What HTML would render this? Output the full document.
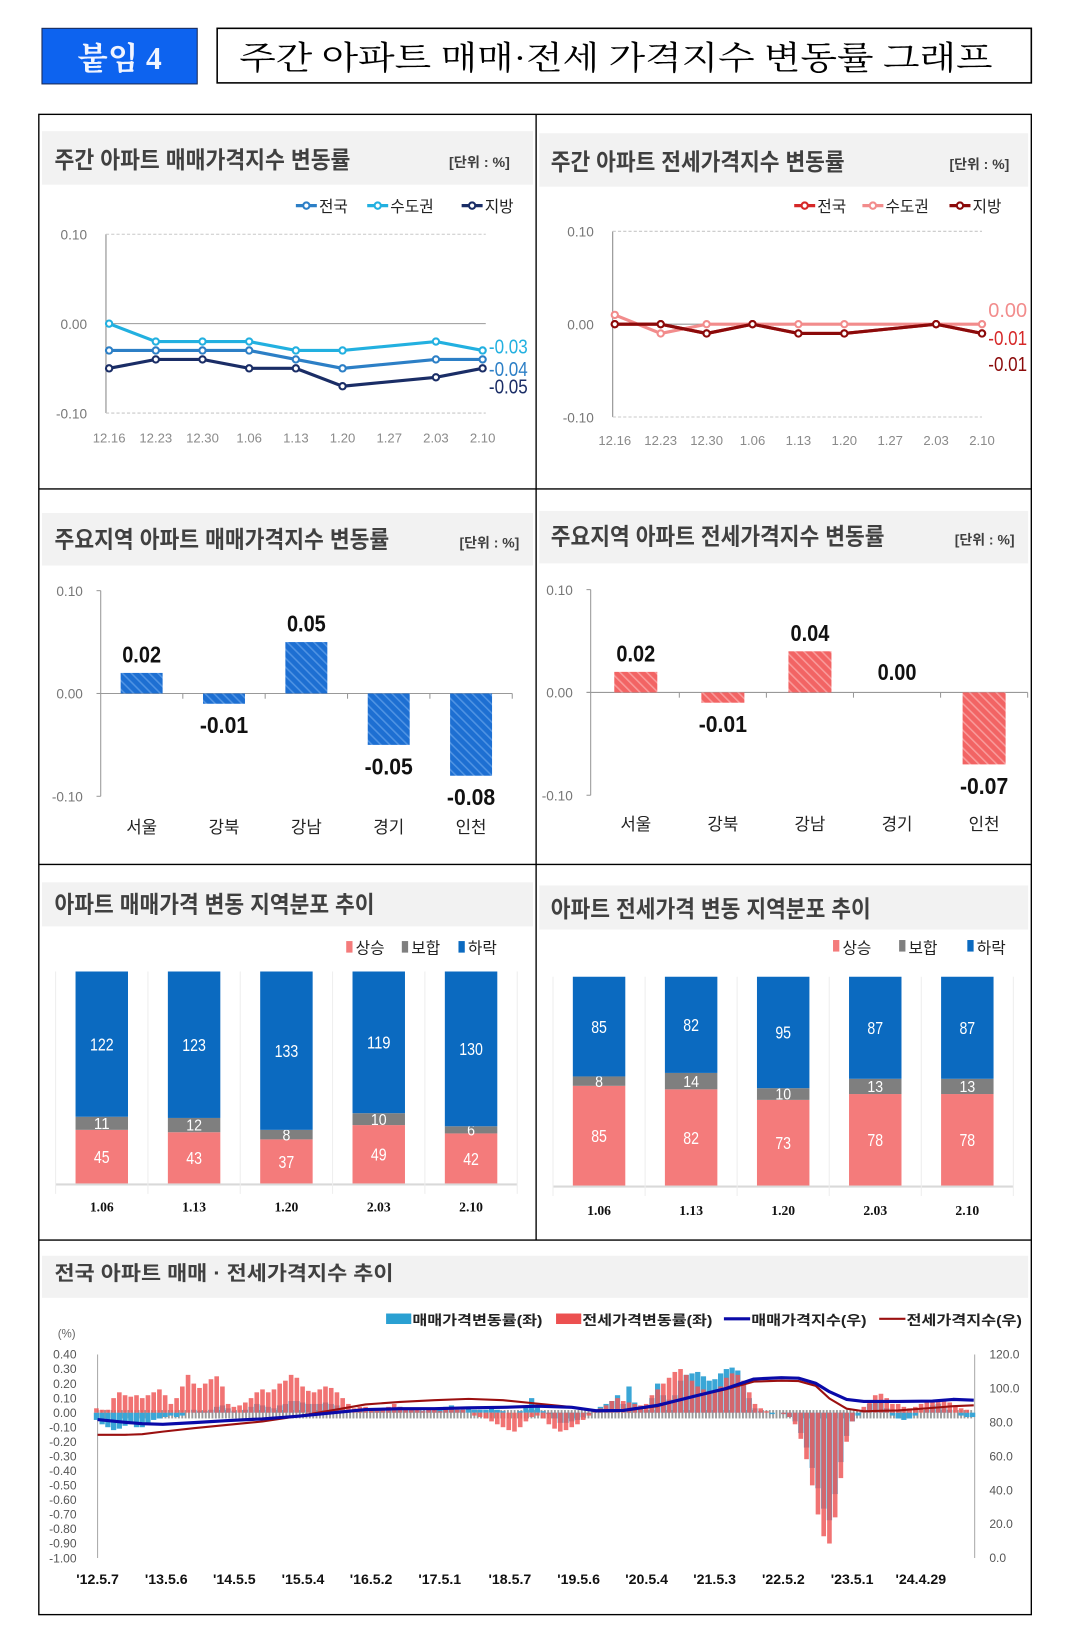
<!DOCTYPE html>
<html><head><meta charset="utf-8">
<style>
html,body{margin:0;padding:0;background:#fff;}
svg{display:block;}
text{font-family:"Liberation Sans","Noto Sans CJK KR",sans-serif;}
.ser{font-family:"Liberation Serif","Noto Serif CJK SC",serif;}
.ttl{font-family:"Liberation Sans","Noto Sans CJK KR",sans-serif;font-weight:bold;fill:#404040;}
</style></head>
<body>
<svg id="page" width="1080" height="1644" viewBox="0 0 1029.4 1567" preserveAspectRatio="none" xmlns="http://www.w3.org/2000/svg">
<defs>
<pattern id="hb" width="6" height="6" patternUnits="userSpaceOnUse" patternTransform="rotate(-45)"><rect width="6" height="6" fill="#1d6fd2"/><rect width="1.5" height="6" fill="#4f93e3"/></pattern>
<pattern id="hr" width="6" height="6" patternUnits="userSpaceOnUse" patternTransform="rotate(-45)"><rect width="6" height="6" fill="#f26464"/><rect width="1.5" height="6" fill="#f99a9a"/></pattern>
<pattern id="gz" width="3.2" height="10" patternUnits="userSpaceOnUse"><rect width="1.8" height="10" fill="#9a9a9a"/></pattern>
</defs>

<!-- header -->
<rect x="40" y="27" width="148" height="53" fill="#0d63ef" stroke="#1a2a55" stroke-width="1"/>
<text x="114" y="66" text-anchor="middle" class="ser" font-size="30" font-weight="bold" fill="#f0f4ff">붙임 4</text>
<rect x="207" y="27" width="776" height="52" fill="#fff" stroke="#000" stroke-width="1.5"/>
<text x="228" y="66" class="ser" font-size="31" fill="#000" textLength="718" lengthAdjust="spacingAndGlyphs">주간 아파트 매매·전세 가격지수 변동률 그래프</text>

<!-- outer grid -->
<g stroke="#000" stroke-width="1.3" fill="none">
<rect x="37" y="109" width="946" height="1430"/>
<line x1="511" y1="109" x2="511" y2="1182"/>
<line x1="37" y1="466" x2="983" y2="466"/>
<line x1="37" y1="824" x2="983" y2="824"/>
<line x1="37" y1="1182" x2="983" y2="1182"/>
</g>

<!-- header bands -->
<g fill="#f2f2f2">
<rect x="40" y="125" width="468" height="51"/>
<rect x="514" y="127" width="466" height="51"/>
<rect x="40" y="489" width="468" height="50"/>
<rect x="514" y="487" width="466" height="50"/>
<rect x="40" y="841" width="468" height="42"/>
<rect x="514" y="844" width="466" height="42"/>
<rect x="40" y="1197" width="940" height="40"/>
</g>
<text x="52" y="160" class="ttl" font-size="22" textLength="282" lengthAdjust="spacingAndGlyphs">주간 아파트 매매가격지수 변동률</text>
<text x="428" y="159" class="ttl" font-size="13" fill="#333" textLength="58" lengthAdjust="spacingAndGlyphs">[단위 : %]</text>
<text x="525" y="162" class="ttl" font-size="22" textLength="280" lengthAdjust="spacingAndGlyphs">주간 아파트 전세가격지수 변동률</text>
<text x="905" y="161" class="ttl" font-size="13" fill="#333" textLength="57" lengthAdjust="spacingAndGlyphs">[단위 : %]</text>
<text x="52" y="522" class="ttl" font-size="22" textLength="319" lengthAdjust="spacingAndGlyphs">주요지역 아파트 매매가격지수 변동률</text>
<text x="438" y="522" class="ttl" font-size="13" fill="#333" textLength="57" lengthAdjust="spacingAndGlyphs">[단위 : %]</text>
<text x="525" y="519" class="ttl" font-size="22" textLength="318" lengthAdjust="spacingAndGlyphs">주요지역 아파트 전세가격지수 변동률</text>
<text x="910" y="519" class="ttl" font-size="13" fill="#333" textLength="57" lengthAdjust="spacingAndGlyphs">[단위 : %]</text>
<text x="52" y="870" class="ttl" font-size="22" textLength="305" lengthAdjust="spacingAndGlyphs">아파트 매매가격 변동 지역분포 추이</text>
<text x="525" y="874" class="ttl" font-size="22" textLength="305" lengthAdjust="spacingAndGlyphs">아파트 전세가격 변동 지역분포 추이</text>
<text x="52" y="1220" class="ttl" font-size="19" textLength="323" lengthAdjust="spacingAndGlyphs">전국 아파트 매매 · 전세가격지수 추이</text>

<!-- legends panel 1/2 -->
<g font-size="15" fill="#222">
<g><line x1="282" y1="196" x2="302" y2="196" stroke="#2c7fc6" stroke-width="3"/><circle cx="292" cy="196" r="3" fill="#fff" stroke="#2c7fc6" stroke-width="2"/><text x="304" y="202">전국</text></g>
<g><line x1="350" y1="196" x2="370" y2="196" stroke="#22b0e0" stroke-width="3"/><circle cx="360" cy="196" r="3" fill="#fff" stroke="#22b0e0" stroke-width="2"/><text x="372" y="202">수도권</text></g>
<g><line x1="440" y1="196" x2="460" y2="196" stroke="#1a2d66" stroke-width="3"/><circle cx="450" cy="196" r="3" fill="#fff" stroke="#1a2d66" stroke-width="2"/><text x="462" y="202">지방</text></g>
<g><line x1="757" y1="196" x2="777" y2="196" stroke="#d62828" stroke-width="3"/><circle cx="767" cy="196" r="3" fill="#fff" stroke="#d62828" stroke-width="2"/><text x="779" y="202">전국</text></g>
<g><line x1="822" y1="196" x2="842" y2="196" stroke="#f28c8c" stroke-width="3"/><circle cx="832" cy="196" r="3" fill="#fff" stroke="#f28c8c" stroke-width="2"/><text x="844" y="202">수도권</text></g>
<g><line x1="905" y1="196" x2="925" y2="196" stroke="#8b0a0a" stroke-width="3"/><circle cx="915" cy="196" r="3" fill="#fff" stroke="#8b0a0a" stroke-width="2"/><text x="927" y="202">지방</text></g>
</g>

<!-- legends panel 5/6 -->
<g font-size="15" fill="#222">
<g><rect x="330" y="897" width="6" height="11" fill="#f47b7b"/><text x="339" y="909">상승</text></g>
<g><rect x="383" y="897" width="6" height="11" fill="#7f7f7f"/><text x="392" y="909">보합</text></g>
<g><rect x="437" y="897" width="6" height="11" fill="#0b6ac0"/><text x="446" y="909">하락</text></g>
<g><rect x="794" y="896" width="6" height="11" fill="#f47b7b"/><text x="803" y="909">상승</text></g>
<g><rect x="857" y="896" width="6" height="11" fill="#7f7f7f"/><text x="866" y="909">보합</text></g>
<g><rect x="922" y="896" width="6" height="11" fill="#0b6ac0"/><text x="931" y="909">하락</text></g>
</g>

<!-- legend panel 7 -->
<g font-size="13" fill="#222" font-weight="bold">
<g><rect x="368" y="1252" width="24" height="10" fill="#2aa0d2"/><text x="393" y="1263" textLength="124" lengthAdjust="spacingAndGlyphs">매매가격변동률(좌)</text></g>
<g><rect x="530" y="1252" width="24" height="10" fill="#ec5050"/><text x="555" y="1263" textLength="124" lengthAdjust="spacingAndGlyphs">전세가격변동률(좌)</text></g>
<g><line x1="690" y1="1257" x2="715" y2="1257" stroke="#0a0aa8" stroke-width="3"/><text x="716" y="1263" textLength="110" lengthAdjust="spacingAndGlyphs">매매가격지수(우)</text></g>
<g><line x1="838" y1="1257" x2="863" y2="1257" stroke="#9b1010" stroke-width="2"/><text x="864" y="1263" textLength="110" lengthAdjust="spacingAndGlyphs">전세가격지수(우)</text></g>
</g>
<text x="55" y="1275" font-size="11" fill="#666">(%)</text>

<g id="charts"></g>
</svg>

<script>
// ---------- data ----------
const weekCats = ['12.16','12.23','12.30','1.06','1.13','1.20','1.27','2.03','2.10'];
const saleNational = [-0.03,-0.03,-0.03,-0.03,-0.04,-0.05,null,-0.04,-0.04];
const saleCapital = [0.00,-0.02,-0.02,-0.02,-0.03,-0.03,null,-0.02,-0.03];
const saleLocal = [-0.05,-0.04,-0.04,-0.05,-0.05,-0.07,null,-0.06,-0.05];
const jeonseNational = [0.00,0.00,-0.01,0.00,-0.01,-0.01,null,0.00,-0.01];
const jeonseCapital = [0.01,-0.01,0.00,0.00,0.00,0.00,null,0.00,0.00];
const jeonseLocal = [0.00,0.00,-0.01,0.00,-0.01,-0.01,null,0.00,-0.01];
const lineTicks = ['0.10','0.00','-0.10'];

const regions = ['서울','강북','강남','경기','인천'];
const regionSale = [0.02,-0.01,0.05,-0.05,-0.08];
const regionJeonse = [0.02,-0.01,0.04,0.00,-0.07];

const distCats = ['1.06','1.13','1.20','2.03','2.10'];
const saleRise = [45,43,37,49,42];
const saleFlat = [11,12,8,10,6];
const saleFall = [122,123,133,119,130];
const jeonseRise = [85,82,73,78,78];
const jeonseFlat = [8,14,10,13,13];
const jeonseFall = [85,82,95,87,87];

// monthly from 2012-05
const monthlySale = [
-0.05,-0.08,-0.10,-0.12,-0.11,-0.09,-0.08,-0.10,
-0.10,-0.08,-0.05,-0.04,-0.03,-0.02,-0.03,-0.02,0.00,0.02,0.01,0.01,
0.02,0.04,0.05,0.03,0.01,0.00,0.02,0.04,0.06,0.05,0.04,0.03,
0.05,0.06,0.08,0.08,0.07,0.06,0.06,0.06,0.07,0.06,0.05,0.03,
0.01,0.00,0.01,0.01,0.02,0.02,0.02,0.03,0.03,0.04,0.03,0.02,
0.01,0.01,0.01,0.01,0.02,0.04,0.05,0.02,0.02,0.03,0.02,0.02,
0.02,0.03,0.02,0.01,0.00,0.00,0.01,0.04,0.10,0.05,0.01,-0.01,
-0.04,-0.07,-0.07,-0.06,-0.05,-0.03,-0.01,0.01,0.04,0.06,0.08,0.12,
0.06,0.18,0.07,0.04,0.02,0.10,0.20,0.12,0.09,0.12,0.22,0.26,
0.27,0.28,0.25,0.22,0.23,0.27,0.30,0.31,0.29,0.20,0.10,0.03,
0.01,0.00,-0.01,0.00,-0.01,-0.03,-0.06,-0.14,-0.24,-0.38,-0.52,-0.66,
-0.74,-0.56,-0.34,-0.16,-0.06,-0.02,0.02,0.06,0.08,0.07,0.03,-0.02,
-0.04,-0.05,-0.04,-0.02,0.00,0.02,0.05,0.06,0.04,0.02,0.00,-0.02,
-0.03,-0.03];
const monthlyJeonse = [
0.03,0.02,0.02,0.10,0.14,0.12,0.11,0.12,
0.10,0.12,0.14,0.16,0.12,0.06,0.10,0.18,0.26,0.20,0.17,0.20,
0.23,0.25,0.18,0.06,0.04,0.05,0.07,0.10,0.14,0.16,0.14,0.16,
0.20,0.22,0.26,0.24,0.18,0.15,0.14,0.16,0.18,0.17,0.14,0.10,
0.06,0.03,0.04,0.04,0.03,0.02,0.03,0.04,0.06,0.04,0.03,0.02,
0.02,0.01,0.02,0.02,0.01,0.02,0.03,0.02,0.02,0.00,-0.02,-0.03,
-0.04,-0.06,-0.08,-0.10,-0.12,-0.13,-0.10,-0.06,-0.03,-0.02,-0.04,-0.08,
-0.11,-0.13,-0.12,-0.10,-0.08,-0.05,-0.02,0.01,0.03,0.05,0.08,0.10,
0.08,0.07,0.06,0.05,0.06,0.12,0.16,0.20,0.24,0.28,0.30,0.26,
0.22,0.18,0.16,0.14,0.15,0.18,0.24,0.27,0.26,0.22,0.14,0.06,
0.03,0.01,0.00,0.00,-0.01,-0.03,-0.08,-0.18,-0.32,-0.50,-0.70,-0.85,
-0.90,-0.72,-0.45,-0.20,-0.06,0.00,0.04,0.08,0.12,0.13,0.10,0.06,
0.06,0.04,0.03,0.04,0.06,0.07,0.08,0.08,0.09,0.07,0.05,0.03,
0.02,0.00];
const idxYears = [2012.35,2012.75,2013.0,2013.3,2013.75,2014.25,2014.75,2015.25,2015.75,2016.25,2016.75,2017.25,2017.75,2018.25,2018.75,2019.25,2019.6,2020.0,2020.5,2021.0,2021.5,2021.9,2022.3,2022.55,2022.8,2023.0,2023.25,2023.5,2024.0,2024.5,2024.8,2025.1];
const saleIndex = [81.6,80.0,79.2,78.8,79.8,81.0,82.0,83.5,85.5,87.5,88.0,88.0,88.5,88.8,89.5,88.8,86.8,87.0,90.0,95.0,100.0,105.5,106.3,106.0,103.0,98.0,93.5,92.3,92.3,92.5,93.5,93.0];
const jeonseIndex = [72.6,72.6,73.0,74.5,76.5,78.5,80.5,83.5,87.0,90.5,92.0,93.0,93.8,93.0,91.0,89.0,86.5,86.8,89.5,95.0,99.5,104.0,104.5,104.3,101.5,94.0,88.0,86.5,87.0,88.5,89.5,90.0];
const leftTicks = ['0.40','0.30','0.20','0.10','0.00','-0.10','-0.20','-0.30','-0.40','-0.50','-0.60','-0.70','-0.80','-0.90','-1.00'];
const rightTicks = ['120.0','100.0','80.0','60.0','40.0','20.0','0.0'];
const dateLabels = ["'12.5.7","'13.5.6","'14.5.5","'15.5.4","'16.5.2","'17.5.1","'18.5.7","'19.5.6","'20.5.4","'21.5.3","'22.5.2","'23.5.1","'24.4.29"];
const dateYears = [2012.35,2013.35,2014.34,2015.34,2016.33,2017.33,2018.35,2019.35,2020.34,2021.33,2022.33,2023.33,2024.33];

// ---------- helpers ----------
const NS = 'http://www.w3.org/2000/svg';
const root = document.getElementById('charts');
function el(tag, parent) { const e = document.createElementNS(NS, tag); (parent || root).appendChild(e); return e; }
function txt(parent, x, y, s, size, fill, anchor) {
  const t = el('text', parent);
  t.setAttribute('x', x); t.setAttribute('y', y); t.textContent = s;
  t.setAttribute('font-size', size); t.setAttribute('fill', fill);
  if (anchor) t.setAttribute('text-anchor', anchor);
  return t;
}

// ---------- weekly line charts ----------
function lineChart(cfg) {
  const g = el('g');
  
  
  const x = i => cfg.x0 + i * cfg.dx;
  const y = v => cfg.y0 - v * cfg.k;
  const ax = el('line', g);
  ax.setAttribute('x1', cfg.ax); ax.setAttribute('x2', cfg.ax); ax.setAttribute('y1', y(0.10)); ax.setAttribute('y2', y(-0.10)); ax.setAttribute('stroke', '#888');
  
  
  lineTicks.forEach(tk => {
    const v = parseFloat(tk);
    const gl = el('line', g);
    gl.setAttribute('x1', cfg.ax); gl.setAttribute('x2', cfg.xEnd); gl.setAttribute('y1', y(v)); gl.setAttribute('y2', y(v));
    gl.setAttribute('stroke', v === 0 ? '#999' : '#c8c8c8');
    if (v !== 0) gl.setAttribute('stroke-dasharray', '3,2');
    
    
    const t = txt(g, cfg.ax - 18, y(v) + 5, tk, 13, '#777', 'end');
    
    
  });
  weekCats.forEach((c, i) => {
    const t = txt(g, x(i), cfg.xlY, c, 12.5, '#8a8a8a', 'middle');
    
    
  });
  cfg.series.forEach(s => {
    const pts = [];
    s.data.forEach((v, i) => { if (v !== null) pts.push([x(i), y(v)]); });
    const pl = el('polyline', g);
    pl.setAttribute('points', pts.map(p => p.join(',')).join(' '));
    pl.setAttribute('fill', 'none'); pl.setAttribute('stroke', s.color); pl.setAttribute('stroke-width', '3');
    
    
    pts.forEach(p => {
      const c = el('circle', g);
      c.setAttribute('cx', p[0]); c.setAttribute('cy', p[1]); c.setAttribute('r', 3);
      c.setAttribute('fill', '#fff'); c.setAttribute('stroke', s.color); c.setAttribute('stroke-width', 2);
      
      
    });
    const last = s.data[s.data.length - 1];
    const lt = txt(g, cfg.labX, y(last) + s.labDy, last.toFixed(2), 19, s.color, 'start');
    
    
    lt.setAttribute('textLength', 37); lt.setAttribute('lengthAdjust', 'spacingAndGlyphs');
  });
}
lineChart({name:'weekly-sale-chart', x0:104, dx:44.5, y0:308.5, k:852, ax:101, xEnd:463, xlY:422, labX:466,
  series:[
    {name:'sale-capital', data:saleCapital, color:'#22b0e0', labDy:3},
    {name:'sale-national', data:saleNational, color:'#2c7fc6', labDy:16},
    {name:'sale-local', data:saleLocal, color:'#1a2d66', labDy:24}
  ]});
lineChart({name:'weekly-jeonse-chart', x0:586, dx:43.75, y0:309, k:885, ax:584, xEnd:936, xlY:424, labX:942,
  series:[
    {name:'jeonse-capital', data:jeonseCapital, color:'#f28c8c', labDy:-7},
    {name:'jeonse-national', data:jeonseNational, color:'#d62828', labDy:11},
    {name:'jeonse-local', data:jeonseLocal, color:'#8b0a0a', labDy:36}
  ]});

// ---------- regional bar charts ----------
function barChart(cfg) {
  const g = el('g');
  
  
  const y = v => cfg.y0 - v * cfg.k;
  const ax = el('line', g);
  ax.setAttribute('x1', cfg.ax); ax.setAttribute('x2', cfg.ax); ax.setAttribute('y1', y(0.10)); ax.setAttribute('y2', y(-0.10)); ax.setAttribute('stroke', '#999');
  
  
  lineTicks.forEach(tk => {
    const v = parseFloat(tk);
    const tm = el('line', g);
    tm.setAttribute('x1', cfg.ax - 4); tm.setAttribute('x2', cfg.ax); tm.setAttribute('y1', y(v)); tm.setAttribute('y2', y(v)); tm.setAttribute('stroke', '#999');
    const t = txt(g, cfg.ax - 17, y(v) + 5, tk, 13, '#777', 'end');
    
    
  });
  const xa = el('line', g);
  xa.setAttribute('x1', cfg.ax - 4); xa.setAttribute('x2', cfg.x0 + cfg.dx * (regions.length - 0.5)); xa.setAttribute('y1', y(0)); xa.setAttribute('y2', y(0)); xa.setAttribute('stroke', '#999');
  
  
  regions.forEach((r, i) => {
    const cx = cfg.x0 + i * cfg.dx;
    const tk = el('line', g);
    tk.setAttribute('x1', cx + cfg.dx / 2); tk.setAttribute('x2', cx + cfg.dx / 2); tk.setAttribute('y1', y(0)); tk.setAttribute('y2', y(0) + 5); tk.setAttribute('stroke', '#999');
    const v = cfg.data[i];
    const b = el('rect', g);
    b.setAttribute('x', cx - cfg.w / 2); b.setAttribute('width', cfg.w);
    b.setAttribute('y', Math.min(y(v), y(0))); b.setAttribute('height', Math.abs(y(v) - y(0)));
    b.setAttribute('fill', cfg.fill);
    
    
    const ly = v > 0 ? y(v) - 10 : (v < 0 ? y(v) + 28 : y(0) - 12);
    const vt = txt(g, cx, ly, v.toFixed(2), 22, '#111', 'middle');
    vt.setAttribute('font-weight', 'bold');
    vt.setAttribute('textLength', v < 0 ? 46 : 37); vt.setAttribute('lengthAdjust', 'spacingAndGlyphs');
    
    
    const ct = txt(g, cx, cfg.catY, r, 16, '#222', 'middle');
    
    
  });
}
barChart({name:'region-sale-chart', data:regionSale, x0:135, dx:78.5, w:40, y0:661, k:980, ax:96, fill:'url(#hb)', catY:794});
barChart({name:'region-jeonse-chart', data:regionJeonse, x0:606, dx:83, w:41, y0:660, k:980, ax:563, fill:'url(#hr)', catY:791});

// ---------- stacked distribution ----------
function stackChart(cfg) {
  const g = el('g');
  
  
  const base = el('line', g);
  base.setAttribute('x1', cfg.x0 - cfg.dx / 2); base.setAttribute('x2', cfg.x0 + cfg.dx * 4.5); base.setAttribute('y1', cfg.base + 1); base.setAttribute('y2', cfg.base + 1); base.setAttribute('stroke', '#d9d9d9'); base.setAttribute('stroke-width', 2);
  for (let i = 0; i <= distCats.length; i++) {
    const sx = cfg.x0 - cfg.dx / 2 + i * cfg.dx;
    const sl = el('line', g);
    sl.setAttribute('x1', sx); sl.setAttribute('x2', sx); sl.setAttribute('y1', cfg.top); sl.setAttribute('y2', cfg.base + 10); sl.setAttribute('stroke', '#eeeeee');
  }
  distCats.forEach((c, i) => {
    const cx = cfg.x0 + i * cfg.dx;
    const tot = cfg.rise[i] + cfg.flat[i] + cfg.fall[i];
    const k = (cfg.base - cfg.top) / tot;
    const segs = [[cfg.rise[i], '#f47b7b', 'rise'], [cfg.flat[i], '#7f7f7f', 'flat'], [cfg.fall[i], '#0b6ac0', 'fall']];
    let yb = cfg.base;
    segs.forEach(s => {
      const h = s[0] * k;
      const r = el('rect', g);
      r.setAttribute('x', cx - 25); r.setAttribute('width', 50); r.setAttribute('y', yb - h); r.setAttribute('height', h); r.setAttribute('fill', s[1]);
      
      
      const fs = s[2] === 'flat' ? 15 : 17;
      const ty = s[2] === 'fall' ? yb - h * 0.5 + 6 : yb - h / 2 + fs * 0.36;
      const t = txt(g, cx, ty, String(s[0]), fs, '#fff', 'middle');
      t.setAttribute('textLength', String(s[0]).length * 7.5); t.setAttribute('lengthAdjust', 'spacingAndGlyphs');
      
      
      yb -= h;
    });
    const xt = txt(g, cx, cfg.catY, c, 13, '#111', 'middle');
    xt.setAttribute('class', 'ser'); xt.setAttribute('font-weight', 'bold');
    
    
  });
}
stackChart({name:'sale-distribution-chart', rise:saleRise, flat:saleFlat, fall:saleFall, x0:97, dx:88, top:926, base:1128, catY:1155});
stackChart({name:'jeonse-distribution-chart', rise:jeonseRise, flat:jeonseFlat, fall:jeonseFall, x0:571, dx:87.75, top:931, base:1130, catY:1158});

// ---------- long-term trend ----------
(function () {
  const g = el('g');
  
  
  const xT = t => 93 + (t - 2012.35) * 65.5;
  const yL = v => 1346.5 - v * 138.6;
  const yR = v => 1485 - v * 1.6167;
  [[93, 'left-axis'], [929, 'right-axis']].forEach(a => {
    const l = el('line', g);
    l.setAttribute('x1', a[0]); l.setAttribute('x2', a[0]); l.setAttribute('y1', 1291); l.setAttribute('y2', 1485); l.setAttribute('stroke', '#aaa');
    
    
  });
  leftTicks.forEach(tk => {
    const t = txt(g, 73, yL(parseFloat(tk)) + 4, tk, 11.5, '#555', 'end');
    
    
  });
  rightTicks.forEach(tk => {
    const t = txt(g, 943, yR(parseFloat(tk)) + 4, tk, 11.5, '#555', 'start');
    
    
  });
  dateLabels.forEach((d, i) => {
    const t = txt(g, xT(dateYears[i]), 1510, d, 13.5, '#111', 'middle');
    t.setAttribute('font-weight', 'bold');
    
    
  });
  const zb = el('rect', g);
  zb.setAttribute('x', 94); zb.setAttribute('y', 1344); zb.setAttribute('width', 834); zb.setAttribute('height', 8); zb.setAttribute('fill', 'url(#gz)');
  
  
  // sale bars first, jeonse bars on top
  monthlySale.forEach((v, i) => {
    const x = xT(2012 + (4 + i) / 12);
    const r = el('rect', g);
    r.setAttribute('x', x - 2.5); r.setAttribute('width', 5);
    r.setAttribute('y', Math.min(yL(v), yL(0))); r.setAttribute('height', Math.abs(yL(v) - yL(0)));
    r.setAttribute('fill', '#3aa6d6');
    
    
  });
  monthlyJeonse.forEach((v, i) => {
    const x = xT(2012 + (4 + i) / 12);
    const r = el('rect', g);
    r.setAttribute('x', x - 2.2); r.setAttribute('width', 4.4);
    r.setAttribute('y', Math.min(yL(v), yL(0))); r.setAttribute('height', Math.abs(yL(v) - yL(0)));
    r.setAttribute('fill', '#ee5a5a'); r.setAttribute('opacity', '0.85');
    
    
  });
  [[jeonseIndex, '#9b1010', 2, 'jeonse-index-line'], [saleIndex, '#0a0aa8', 3, 'sale-index-line']].forEach(s => {
    const p = el('polyline', g);
    p.setAttribute('points', s[0].map((v, i) => xT(idxYears[i]) + ',' + yR(v)).join(' '));
    p.setAttribute('fill', 'none'); p.setAttribute('stroke', s[1]); p.setAttribute('stroke-width', s[2]); p.setAttribute('stroke-linejoin', 'round');
    
    
  });
})();
</script>
</body></html>
